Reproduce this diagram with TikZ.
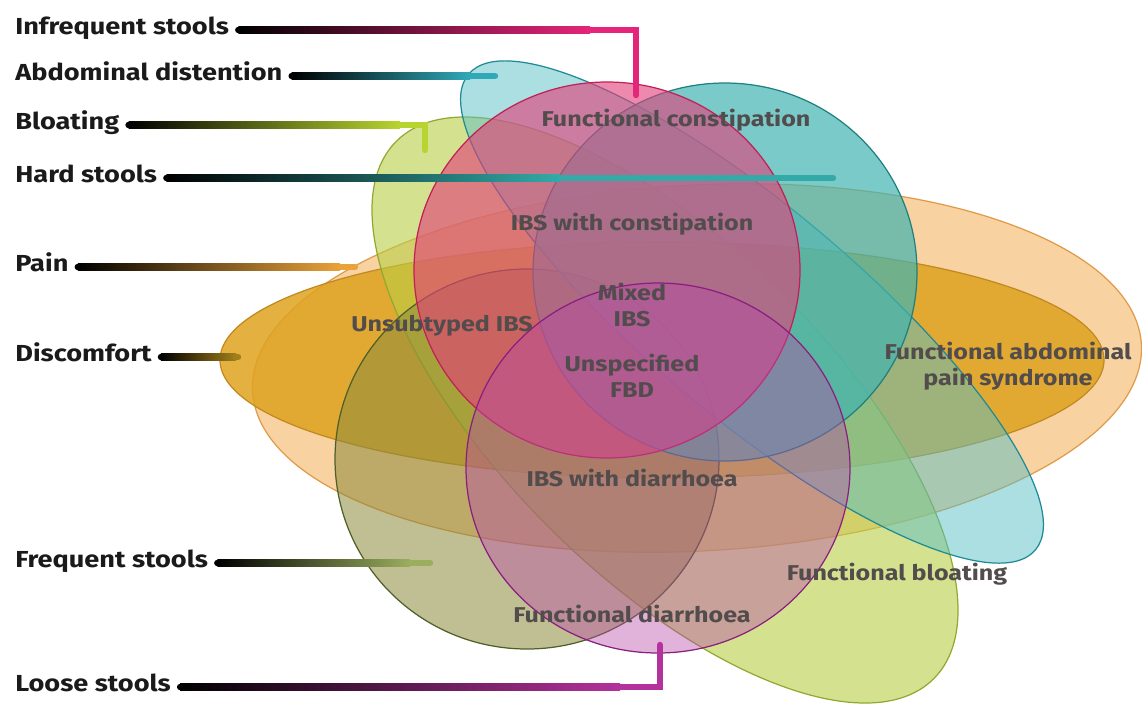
\documentclass[tikz,border=0pt]{standalone}
\usepackage{fontspec}
\setmainfont{Fira Sans}
\newfontfamily\lblfont{Fira Sans}[FakeStretch=1.17]
\usetikzlibrary{calc}
\definecolor{peach}{HTML}{F7C78A}
\definecolor{peachd}{HTML}{E09A48}
\definecolor{gold}{HTML}{DFA21E}
\definecolor{goldd}{HTML}{C08A20}
\definecolor{lime}{HTML}{B8CF45}
\definecolor{limed}{HTML}{8FAA30}
\definecolor{olive}{HTML}{8C8A3A}
\definecolor{olived}{HTML}{4F5F28}
\definecolor{tealA}{HTML}{5ABFC5}
\definecolor{tealAd}{HTML}{1F8A96}
\definecolor{tealB}{HTML}{40B4B0}
\definecolor{tealBd}{HTML}{1F8080}
\definecolor{pinkC}{HTML}{E2407A}
\definecolor{pinkCd}{HTML}{C02058}
\definecolor{purpC}{HTML}{B848A8}
\definecolor{purpCd}{HTML}{8A1F80}
\definecolor{labelcol}{HTML}{1A1A1A}
\definecolor{incol}{HTML}{524C4C}
\definecolor{cInf}{HTML}{E5257A}
\definecolor{cAbd}{HTML}{2FA9B8}
\definecolor{cBloat}{HTML}{B8D430}
\definecolor{cHard}{HTML}{33AAA8}
\definecolor{cPain}{HTML}{EAA23A}
\definecolor{cDisc}{HTML}{A07E1A}
\definecolor{cFreq}{HTML}{9AAE5E}
\definecolor{cLoose}{HTML}{B4329C}
\tikzset{
  lbl/.style={anchor=west, inner sep=0pt, text height=0.72em, text depth=0.24em,
    font=\lblfont\bfseries\fontsize{13.2}{15}\selectfont, text=labelcol},
  inlbl/.style={inner sep=0pt, align=center,
    font=\lblfont\bfseries\fontsize{12.2}{14.5}\selectfont, text=incol},
  setbox/.style={line width=0.7pt},
  conn/.style={line width=0.128cm, line cap=round, line join=miter},
}
% #1 label node, #2 colour, #3 gradient end coordinate
\newcommand{\gradconn}[3]{%
  \shade[left color=black, right color=#2] ($(#1.east)+(9,-3.2)$) rectangle ($(#3)+(0,3.2)$);
  \fill[black] ($(#1.east)+(9,0)$) circle [radius=3.2];
}
\begin{document}
\begin{tikzpicture}[x=0.02cm, y=-0.02cm]
\useasboundingbox (0,0) rectangle (1142,704);

% sets
\path[setbox, draw=peachd, fill=peach, fill opacity=0.8, rotate around={3:(697,368)}]
  (697,368) ellipse [x radius=445, y radius=183];
\path[setbox, draw=goldd, fill=gold, fill opacity=0.85]
  (662,360) ellipse [x radius=442, y radius=118];
\path[setbox, draw=limed, fill=lime, fill opacity=0.6, rotate around={-45:(665,410)}]
  (665,410) ellipse [x radius=380, y radius=165];
\path[setbox, draw=olived, fill=olive, fill opacity=0.55]
  (527,459) ellipse [x radius=192, y radius=190];
\path[setbox, draw=tealAd, fill=tealA, fill opacity=0.5, rotate around={-40:(752,312)}]
  (752,312) ellipse [x radius=370, y radius=105];
\path[setbox, draw=tealBd, fill=tealB, fill opacity=0.7]
  (725,272) ellipse [x radius=192, y radius=189];
\path[setbox, draw=pinkCd, fill=pinkC, fill opacity=0.62]
  (607,270) ellipse [x radius=193, y radius=188];
\path[setbox, draw=purpCd, fill=purpC, fill opacity=0.42]
  (658,468) ellipse [x radius=192, y radius=185];

% labels
\node[lbl] (inf) at (15,30) {Infrequent stools};
\node[lbl] (abd) at (15,76) {Abdominal distention};
\node[lbl] (bloat) at (15,125) {Bloating};
\node[lbl] (hard) at (15,178) {Hard stools};
\node[lbl] (pain) at (15,267) {Pain};
\node[lbl] (disc) at (15,357) {Discomfort};
\node[lbl] (freq) at (15,563) {Frequent stools};
\node[lbl] (loose) at (15,687) {Loose stools};

% connector coordinates
\coordinate (inf-g) at (590,30);  \coordinate (inf-c) at (636,30);  \coordinate (inf-e) at (636,95);
\coordinate (abd-g) at (470,76);  \coordinate (abd-e) at (495,76);
\coordinate (bloat-g) at (400,125); \coordinate (bloat-c) at (425,125); \coordinate (bloat-e) at (425,150);
\coordinate (hard-g) at (560,178); \coordinate (hard-e) at (833,178);
\coordinate (pain-g) at (340,267); \coordinate (pain-e) at (355,267);
\coordinate (disc-g) at (236,357); \coordinate (disc-e) at (238,357);
\coordinate (freq-g) at (410,563); \coordinate (freq-e) at (430,563);
\coordinate (loose-g) at (620,687); \coordinate (loose-c) at (660,687); \coordinate (loose-e) at (660,645);

\gradconn{inf}{cInf}{inf-g}
\draw[conn, cInf] (inf-g) -- (inf-c) -- (inf-e);
\gradconn{abd}{cAbd}{abd-g}
\draw[conn, cAbd] (abd-g) -- (abd-e);
\gradconn{bloat}{cBloat}{bloat-g}
\draw[conn, cBloat] (bloat-g) -- (bloat-c) -- (bloat-e);
\gradconn{hard}{cHard}{hard-g}
\draw[conn, cHard] (hard-g) -- (hard-e);
\gradconn{pain}{cPain}{pain-g}
\draw[conn, cPain] (pain-g) -- (pain-e);
\gradconn{disc}{cDisc}{disc-g}
\draw[conn, cDisc] (disc-g) -- (disc-e);
\gradconn{freq}{cFreq}{freq-g}
\draw[conn, cFreq] (freq-g) -- (freq-e);
\gradconn{loose}{cLoose}{loose-g}
\draw[conn, cLoose] (loose-g) -- (loose-c) -- (loose-e);

% inner labels
\node[inlbl] (fc) at (676,120) {Functional constipation};
\node[inlbl] (ibsc) at (632,224) {IBS with constipation};
\node[inlbl] (mix) at (632,305) {Mixed\\IBS};
\node[inlbl] (unsub) at (442,326) {Unsubtyped IBS};
\node[inlbl] (unspec) at (632,376) {Unspecified\\FBD};
\node[inlbl] (fap) at (1008,366) {Functional abdominal\\pain syndrome};
\node[inlbl] (ibsd) at (632,478) {IBS with diarrhoea};
\node[inlbl] (fb) at (897,574) {Functional bloating};
\node[inlbl] (fd) at (632,614) {Functional diarrhoea};
\end{tikzpicture}
\end{document}
